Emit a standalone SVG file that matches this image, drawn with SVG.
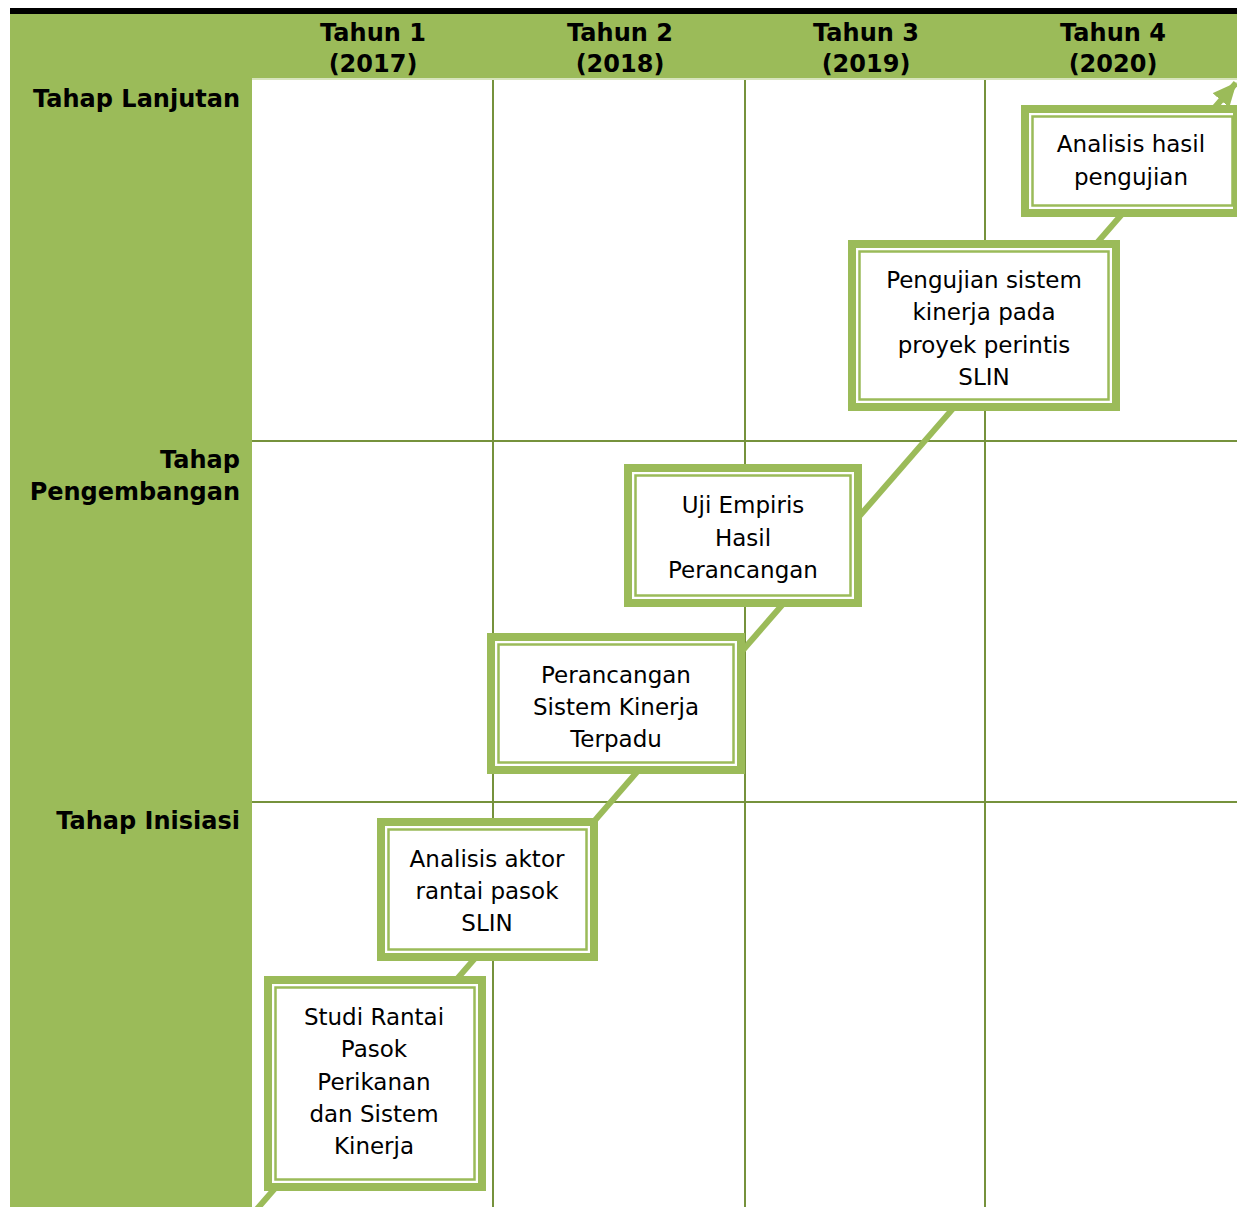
<svg xmlns="http://www.w3.org/2000/svg" width="1237" height="1207" viewBox="0 0 1237 1207">
<style>
.hdr{font-family:"DejaVu Sans","Liberation Sans",sans-serif;font-weight:bold;font-size:24px;fill:#000}
.lbl{font-family:"DejaVu Sans","Liberation Sans",sans-serif;font-weight:bold;font-size:24px;fill:#000;text-anchor:end}
.bt{font-family:"DejaVu Sans","Liberation Sans",sans-serif;font-size:23px;fill:#000;text-anchor:middle}
.outer{fill:#fff;stroke:#9BBB59;stroke-width:8}
.inner{fill:none;stroke:#9BBB59;stroke-width:2.5}
.grid{stroke:#76923C;stroke-width:2}
</style>
<defs>
<marker id="ah" markerUnits="userSpaceOnUse" viewBox="0 0 24 22" refX="23" refY="11" markerWidth="24" markerHeight="22" orient="auto">
<path d="M0,0 L24,11 L0,22 Z" fill="#9BBB59"/>
</marker>
</defs>
<rect x="0" y="0" width="1237" height="1207" fill="#fff"/>
<g id="frame">
<rect x="10" y="8" width="1227" height="6" fill="#000"/>
<rect x="10" y="14" width="1227" height="64" fill="#9BBB59"/>
<rect x="10" y="14" width="242" height="1193" fill="#9BBB59"/>
<rect x="252" y="78" width="985" height="2" fill="#D7E4BD"/>
</g>
<g id="grid">
<line class="grid" x1="493" y1="80" x2="493" y2="1207"/>
<line class="grid" x1="745" y1="80" x2="745" y2="1207"/>
<line class="grid" x1="985" y1="80" x2="985" y2="1207"/>
<line class="grid" x1="252" y1="441" x2="1237" y2="441"/>
<line class="grid" x1="252" y1="802" x2="1237" y2="802"/>
</g>
<g id="headers">
<text class="hdr" text-anchor="middle" x="373" y="41">Tahun 1</text>
<text class="hdr" text-anchor="middle" x="373" y="72">(2017)</text>
<text class="hdr" text-anchor="middle" x="620" y="41">Tahun 2</text>
<text class="hdr" text-anchor="middle" x="620" y="72">(2018)</text>
<text class="hdr" text-anchor="middle" x="866" y="41">Tahun 3</text>
<text class="hdr" text-anchor="middle" x="866" y="72">(2019)</text>
<text class="hdr" text-anchor="middle" x="1113" y="41">Tahun 4</text>
<text class="hdr" text-anchor="middle" x="1113" y="72">(2020)</text>
<text class="lbl" x="240" y="107">Tahap Lanjutan</text>
<text class="lbl" x="240" y="468">Tahap</text>
<text class="lbl" x="240" y="500">Pengembangan</text>
<text class="lbl" x="240" y="829">Tahap Inisiasi</text>
</g>
<g id="connectors">
<line x1="257" y1="1209" x2="1236" y2="83" stroke="#9BBB59" stroke-width="6" marker-end="url(#ah)"/>
</g>
<g id="box1">
<rect class="outer" x="268" y="980" width="214" height="207"/>
<rect class="inner" x="275.5" y="987.5" width="199" height="192"/>
<text class="bt" x="374" y="1025">Studi Rantai</text>
<text class="bt" x="374" y="1057">Pasok</text>
<text class="bt" x="374" y="1090">Perikanan</text>
<text class="bt" x="374" y="1122">dan Sistem</text>
<text class="bt" x="374" y="1154">Kinerja</text>
</g>
<g id="box2">
<rect class="outer" x="381" y="822" width="213" height="135"/>
<rect class="inner" x="388.5" y="829.5" width="198" height="120"/>
<text class="bt" x="487" y="867">Analisis aktor</text>
<text class="bt" x="487" y="899">rantai pasok</text>
<text class="bt" x="487" y="931">SLIN</text>
</g>
<g id="box3">
<rect class="outer" x="491" y="637" width="250" height="133"/>
<rect class="inner" x="498.5" y="644.5" width="235" height="118"/>
<text class="bt" x="616" y="683">Perancangan</text>
<text class="bt" x="616" y="715">Sistem Kinerja</text>
<text class="bt" x="616" y="747">Terpadu</text>
</g>
<g id="box4">
<rect class="outer" x="628" y="468" width="230" height="135"/>
<rect class="inner" x="635.5" y="475.5" width="215" height="120"/>
<text class="bt" x="743" y="513">Uji Empiris</text>
<text class="bt" x="743" y="546">Hasil</text>
<text class="bt" x="743" y="578">Perancangan</text>
</g>
<g id="box5">
<rect class="outer" x="852" y="244" width="264" height="163"/>
<rect class="inner" x="859.5" y="251.5" width="249" height="148"/>
<text class="bt" x="984" y="288">Pengujian sistem</text>
<text class="bt" x="984" y="320">kinerja pada</text>
<text class="bt" x="984" y="353">proyek perintis</text>
<text class="bt" x="984" y="385">SLIN</text>
</g>
<g id="box6">
<rect class="outer" x="1025" y="109" width="212" height="104"/>
<rect class="inner" x="1032.5" y="116.5" width="200" height="89"/>
<text class="bt" x="1131" y="152">Analisis hasil</text>
<text class="bt" x="1131" y="185">pengujian</text>
</g>
</svg>
